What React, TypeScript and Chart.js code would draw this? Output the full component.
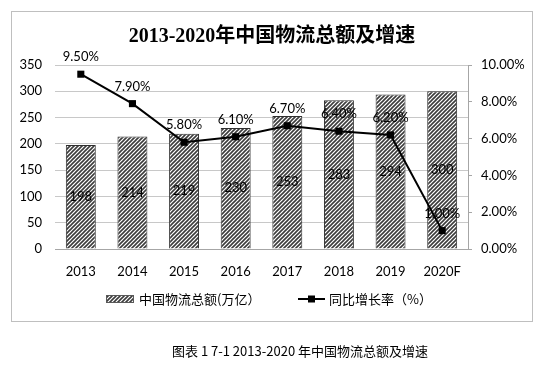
import React, { useEffect, useRef } from 'react';
import { Chart, registerables } from 'chart.js';

Chart.register(...registerables);

const categories = ['2013', '2014', '2015', '2016', '2017', '2018', '2019', '2020F'];
const totals = [198, 214, 219, 230, 253, 283, 294, 300];
const growth = [9.5, 7.9, 5.8, 6.1, 6.7, 6.4, 6.2, 1.0];
const leftMax = 350;
const leftStep = 50;
const rightMax = 10;
const rightStep = 2;
const titleText = '2013-2020年中国物流总额及增速';
const captionText = '图表 1 7-1 2013-2020 年中国物流总额及增速';
const barLabel = '中国物流总额(万亿）';
const lineLabel = '同比增长率（%）';

const TICK_FONT = '"Lato", "Noto Sans", sans-serif';
const CJK_FONT = '"Noto Sans CJK SC", sans-serif';

function makePattern(): CanvasPattern | string {
  const c = document.createElement('canvas');
  c.width = 4;
  c.height = 4;
  const g = c.getContext('2d');
  if (!g) return '#999';
  g.fillStyle = '#ffffff';
  g.fillRect(0, 0, 4, 4);
  g.strokeStyle = '#3c3c3c';
  g.lineWidth = 1.6;
  g.beginPath();
  g.moveTo(-1, 5);
  g.lineTo(5, -1);
  g.moveTo(-1, 1);
  g.lineTo(1, -1);
  g.moveTo(3, 5);
  g.lineTo(5, 3);
  g.stroke();
  const p = g.createPattern(c, 'repeat');
  return p || '#999';
}

export default function App() {
  const ref = useRef<HTMLCanvasElement | null>(null);

  useEffect(() => {
    const canvas = ref.current;
    if (!canvas) return;
    const pattern = makePattern();

    const decor = {
      id: 'decor',
      beforeDraw(chart: any) {
        const ctx = chart.ctx;
        ctx.save();
        ctx.fillStyle = '#ffffff';
        ctx.fillRect(0, 0, chart.width, chart.height);
        ctx.restore();
      },
      afterDraw(chart: any) {
        const ctx = chart.ctx;
        ctx.save();
        // outer border
        ctx.strokeStyle = '#bfbfbf';
        ctx.lineWidth = 1;
        ctx.strokeRect(11.5, 11.5, 521, 310);
        // title
        ctx.fillStyle = '#000';
        ctx.font = 'bold 20px "Liberation Serif", "Noto Sans CJK SC", serif';
        ctx.textAlign = 'center';
        ctx.textBaseline = 'middle';
        ctx.fillText(titleText, 272, 37);

        // legend
        const ly = 299;
        ctx.fillStyle = pattern as any;
        ctx.fillRect(106, ly - 4, 28, 8);
        ctx.strokeStyle = '#595959';
        ctx.lineWidth = 1;
        ctx.strokeRect(106.5, ly - 3.5, 27, 7);
        ctx.fillStyle = '#000';
        ctx.font = '13px ' + CJK_FONT;
        ctx.textAlign = 'left';
        ctx.textBaseline = 'middle';
        ctx.fillText(barLabel, 139, ly);

        ctx.strokeStyle = '#000';
        ctx.lineWidth = 2;
        ctx.beginPath();
        ctx.moveTo(298, ly);
        ctx.lineTo(325, ly);
        ctx.stroke();
        ctx.fillStyle = '#000';
        ctx.fillRect(308, ly - 3.5, 7, 7);
        ctx.fillText(lineLabel, 329, ly);

        // caption
        ctx.font = '13px ' + CJK_FONT;
        ctx.textAlign = 'center';
        ctx.fillText(captionText, 300, 351);
        ctx.restore();
      },
      afterDatasetsDraw(chart: any) {
        const ctx = chart.ctx;
        ctx.save();
        ctx.fillStyle = '#000';
        ctx.font = '13px ' + TICK_FONT;
        ctx.textAlign = 'center';
        ctx.textBaseline = 'middle';
        const barMeta = chart.getDatasetMeta(1);
        barMeta.data.forEach((el: any, i: number) => {
          const y = (el.y + el.base) / 2;
          ctx.fillText(String(totals[i]), el.x, y);
        });
        const lineMeta = chart.getDatasetMeta(0);
        lineMeta.data.forEach((el: any, i: number) => {
          ctx.fillText(growth[i].toFixed(2) + '%', el.x, el.y - 17);
        });
        ctx.restore();
      },
    };

    const chart = new Chart(canvas, {
      type: 'bar',
      data: {
        labels: categories,
        datasets: [
          {
            type: 'line',
            label: lineLabel,
            data: growth,
            yAxisID: 'y1',
            borderColor: '#000',
            backgroundColor: '#000',
            borderWidth: 2,
            pointStyle: 'rect',
            pointRadius: 5,
            pointBorderWidth: 0,
            pointBackgroundColor: '#000',
            tension: 0,
            order: 1,
          } as any,
          {
            type: 'bar',
            label: barLabel,
            data: totals,
            yAxisID: 'y',
            backgroundColor: pattern as any,
            borderColor: '#303030',
            borderWidth: 1,
            categoryPercentage: 1,
            barPercentage: 0.58,
            order: 2,
          } as any,
        ],
      },
      options: {
        animation: false,
        responsive: false,
        maintainAspectRatio: false,
        devicePixelRatio: 1,
        layout: { padding: { left: 11, right: 20, top: 65, bottom: 79 } },
        plugins: {
          legend: { display: false },
          title: { display: false },
          tooltip: { enabled: false },
        },
        scales: {
          x: {
            grid: { display: false },
            border: { display: true, color: '#a6a6a6', width: 1 },
            ticks: { color: '#000', font: { family: TICK_FONT, size: 13 }, padding: 7, maxRotation: 0 },
            afterFit(scale: any) {
              scale.height = 40;
            },
          },
          y: {
            position: 'left',
            min: 0,
            max: leftMax,
            ticks: {
              stepSize: leftStep,
              color: '#000',
              font: { family: TICK_FONT, size: 13 },
              padding: 13,
            },
            grid: { color: '#c8c8c8', drawTicks: false, lineWidth: 1 },
            border: { display: false },
            afterFit(scale: any) {
              scale.width = 44;
            },
          },
          y1: {
            position: 'right',
            min: 0,
            max: rightMax,
            ticks: {
              stepSize: rightStep,
              color: '#000',
              font: { family: TICK_FONT, size: 13 },
              padding: 9,
              callback: (v: any) => Number(v).toFixed(2) + '%',
            },
            grid: { drawOnChartArea: false, drawTicks: true, tickLength: 4, color: '#a6a6a6' },
            border: { display: true, color: '#a6a6a6', width: 1 },
            afterFit(scale: any) {
              scale.width = 57;
            },
          },
        },
      } as any,
      plugins: [decor],
    });

    return () => chart.destroy();
  }, []);

  return (
    <div style={{ position: 'fixed', left: 0, top: 0, width: 545, height: 368, background: '#fff' }}>
      <canvas ref={ref} width={545} height={368} style={{ width: 545, height: 368, display: 'block' }} />
    </div>
  );
}
